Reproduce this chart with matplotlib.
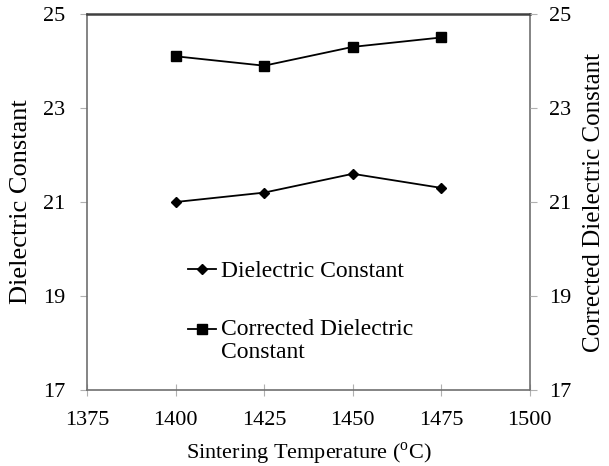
import matplotlib
matplotlib.use("Agg")
import matplotlib.pyplot as plt
from matplotlib.legend_handler import HandlerLine2D

plt.rcParams['font.family'] = ['Liberation Serif', 'DejaVu Serif']
plt.rcParams['mathtext.fontset'] = 'custom'
plt.rcParams['mathtext.rm'] = 'Liberation Serif'

temp = [1400, 1425, 1450, 1475]
dielectric = [21.0, 21.2, 21.6, 21.3]
corrected = [24.1, 23.9, 24.3, 24.5]
yticks = [17, 19, 21, 23, 25]
xticks = [1375, 1400, 1425, 1450, 1475, 1500]


# legend handle lined up with the first line of a two-line label
class FirstLineHandler(HandlerLine2D):
    def __init__(self, shift, **kw):
        super().__init__(**kw)
        self.shift = shift

    def create_artists(self, legend, orig_handle, xdescent, ydescent,
                       width, height, fontsize, trans):
        arts = super().create_artists(legend, orig_handle, xdescent, ydescent,
                                      width, height, fontsize, trans)
        for a in arts:
            a.set_ydata([y + self.shift * fontsize for y in a.get_ydata()])
        return arts


fig = plt.figure(figsize=(6.09, 4.66), dpi=100)
ax = fig.add_axes([0.143, 0.163, 0.727, 0.807])

l1, = ax.plot(temp, dielectric, color='black', lw=1.3, marker='D', ms=5,
              label='Dielectric Constant')
l2, = ax.plot(temp, corrected, color='black', lw=1.3, marker='s', ms=7,
              label='Corrected Dielectric\nConstant')

ax.set_xlim(1375, 1500)
ax.set_ylim(17, 25)
ax.set_xticks(xticks)
ax.set_yticks(yticks)
ax.tick_params(axis='x', direction='inout', length=8, color='#b0b0b0', labelsize=16, pad=11)
ax.tick_params(axis='y', direction='out', length=5, color='#b0b0b0', labelsize=16, pad=11)
for s in ax.spines.values():
    s.set_color('#707070')
    s.set_linewidth(1.2)
ax.spines['top'].set_color('#404040')
ax.spines['top'].set_linewidth(1.8)

ax.set_xlabel('Sintering Temperature ($^{\\rm o}$C)', fontsize=16, labelpad=8)
ax.set_ylabel('Dielectric Constant', fontsize=19, labelpad=8)

ax2 = ax.twinx()
ax2.set_ylim(17, 25)
ax2.set_yticks(yticks)
ax2.tick_params(axis='y', direction='out', length=5, color='#b0b0b0', labelsize=16, pad=9)
for s in ax2.spines.values():
    s.set_visible(False)
ax2.set_ylabel('Corrected Dielectric Constant', fontsize=18, labelpad=8)

leg = ax.legend(handles=[l1, l2], loc='upper left', bbox_to_anchor=(0.18, 0.4),
                frameon=False, fontsize=17, handlelength=1.2, handletextpad=0.2,
                labelspacing=1.55,
                handler_map={l2: FirstLineHandler(0.52)})
for t in leg.get_texts():
    t.set_linespacing(1.15)

fig.savefig('out.png', dpi=100)
